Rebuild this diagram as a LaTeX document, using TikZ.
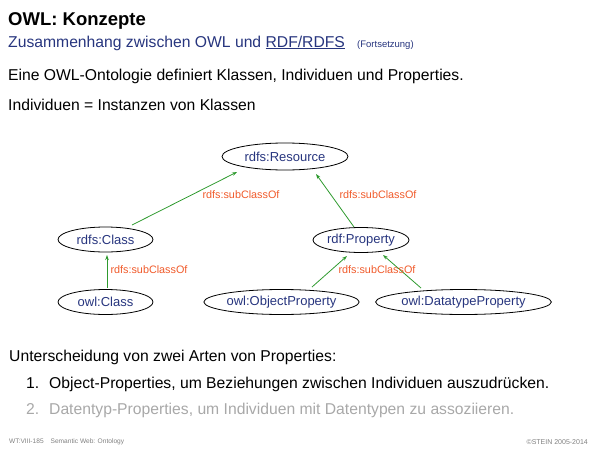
\documentclass[tikz,border=0pt]{standalone}
\usepackage{fontspec}
\setmainfont{Liberation Sans}
\usetikzlibrary{shapes.geometric,arrows.meta}
\definecolor{tblue}{HTML}{27357E}
\definecolor{lblred}{HTML}{F05A2A}
\definecolor{agreen}{HTML}{2E9A2E}
\definecolor{gtext}{HTML}{A8A8A8}
\tikzset{
  cls/.style={ellipse,draw,line width=0.8pt,text=tblue,font=\fontsize{13}{15}\selectfont,inner sep=0pt,minimum height=25pt},
  sub/.style={-{Stealth[length=5pt,width=3.5pt]},agreen,line width=0.8pt},
  lbl/.style={text=lblred,font=\fontsize{10.8}{12}\selectfont,inner sep=0pt},
  body/.style={anchor=west,inner sep=0pt,font=\fontsize{15.7}{18}\selectfont},
}
\begin{document}
\begin{tikzpicture}[x=1pt,y=-1pt]
\useasboundingbox (0,0) rectangle (600,450);
\node[anchor=base west,inner sep=0pt,font=\bfseries\fontsize{18.5}{21}\selectfont] (title) at (8,25) {OWL: Konzepte};
\node[anchor=base west,inner sep=0pt,text=tblue,font=\fontsize{15.7}{18}\selectfont] (subt) at (8,47) {Zusammenhang zwischen OWL und \underline{RDF/RDFS}};
\node[anchor=base west,inner sep=0pt,text=tblue,font=\fontsize{9.5}{11}\selectfont] (fort) at (357,47) {(Fortsetzung)};
\node[body] (l1) at (8,76) {Eine OWL-Ontologie definiert Klassen, Individuen und Properties.};
\node[body] (l2) at (8,105) {Individuen = Instanzen von Klassen};

\node[cls,minimum width=126pt,minimum height=27pt] (res) at (285,156.5) {rdfs:Resource};
\node[cls,minimum width=95pt] (rcl) at (105.5,239.5) {rdfs:Class};
\node[cls,minimum width=93pt] (rpr) at (361,240) {rdf:Property};
\node[cls,minimum width=95pt] (ocl) at (105.5,302) {owl:Class};
\node[cls,minimum width=149pt] (oop) at (281.5,302) {owl:ObjectProperty};
\node[cls,minimum width=149pt] (odp) at (463.5,302) {owl:DatatypeProperty};

\draw[sub] ([shift={(26.5,-14.5)}]rcl.center) -- ([shift={(-48,15.5)}]res.center);
\draw[sub] ([shift={(-7,-13)}]rpr.center) -- ([shift={(31,17.5)}]res.center);
\draw[sub] ([shift={(1.5,-14.5)}]ocl.center) -- ([shift={(1.5,15.5)}]rcl.center);
\draw[sub] ([shift={(30.5,-15)}]oop.center) -- ([shift={(-14,16)}]rpr.center);
\draw[sub] ([shift={(-42.5,-14)}]odp.center) -- ([shift={(22,15)}]rpr.center);

\node[lbl] (s1) at (241,195) {rdfs:subClassOf};
\node[lbl] (s2) at (378,195) {rdfs:subClassOf};
\node[lbl] (s3) at (149,270) {rdfs:subClassOf};
\node[lbl] (s4) at (377,270) {rdfs:subClassOf};

\node[body] (l3) at (9,357) {Unterscheidung von zwei Arten von Properties:};
\node[body] (l4) at (26,384) {\makebox[23pt][l]{1.}Object-Properties, um Beziehungen zwischen Individuen auszudrücken.};
\node[body,text=gtext] (l5) at (26,410) {\makebox[23pt][l]{2.}Datentyp-Properties, um Individuen mit Datentypen zu assoziieren.};

\node[anchor=west,inner sep=0pt,text=gray,font=\fontsize{6.6}{8}\selectfont] (f1) at (9,442) {WT:VIII-185\hspace{7pt}Semantic Web: Ontology};
\node[anchor=east,inner sep=0pt,text=gray,font=\fontsize{7}{8}\selectfont] (f2) at (588,442) {©STEIN 2005-2014};
\end{tikzpicture}
\end{document}
